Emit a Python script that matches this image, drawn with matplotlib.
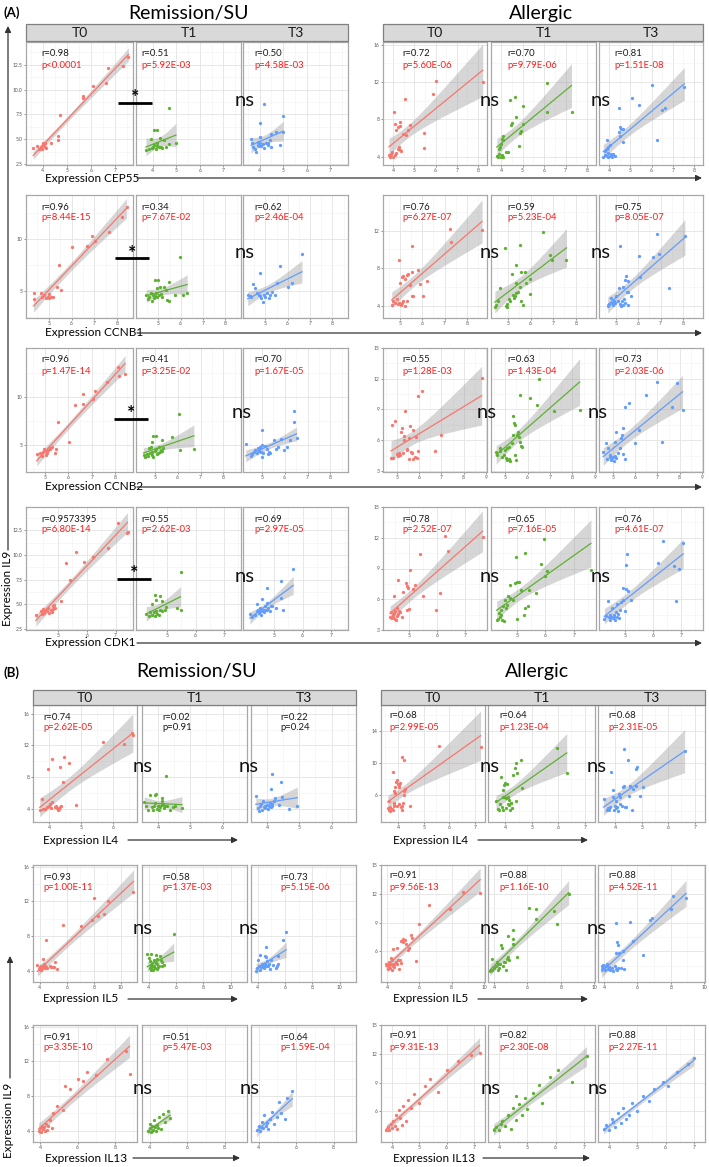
import numpy as np
import matplotlib
matplotlib.use("Agg")
import matplotlib.pyplot as plt

# ------------------------------------------------------------------ data
CATEGORIES = ["T0", "T1", "T3"]
GROUPS = ["Remission/SU", "Allergic"]

CEP55_REM_T0 = [(3.60,4.08),(3.74,4.31),(3.85,3.98),(3.94,4.24),(4.01,4.57),(4.08,4.64),(4.15,4.08),(3.99,4.41),(4.06,4.51),(4.36,4.64),(4.64,5.30),(4.64,4.97),(4.71,7.47),(5.68,9.34),(5.68,9.18),(6.10,10.33),(6.62,10.66),(6.72,12.20),(7.35,12.40),(7.56,13.29),(4.10,4.20),(3.95,4.00)]
CEP55_REM_T1 = [(3.72,3.91),(3.86,3.98),(3.96,4.08),(4.00,4.24),(4.07,4.41),(4.14,3.98),(4.17,4.31),(4.21,4.57),(4.28,4.18),(4.35,4.24),(4.39,4.08),(3.93,5.07),(4.07,5.89),(4.18,5.95),(4.31,5.16),(4.49,4.90),(4.59,4.24),(4.70,4.47),(4.99,4.57),(4.68,8.19)]
CEP55_REM_T3 = [(3.64,5.07),(3.67,4.57),(3.71,4.24),(3.79,3.98),(3.86,3.75),(3.93,4.41),(3.96,4.31),(4.04,4.57),(4.07,4.31),(4.14,4.51),(4.21,4.08),(4.29,4.64),(4.36,4.41),(4.43,4.90),(3.93,4.74),(4.00,5.23),(4.04,6.61),(4.21,8.52),(4.36,4.57),(4.50,5.56),(4.71,5.72),(4.86,4.41),(5.00,5.72),(5.00,7.37),(4.50,4.24)]
CEP55_ALL_T0 = [(3.84,4.11),(3.92,4.29),(3.97,4.47),(4.00,4.00),(4.08,4.22),(3.88,3.93),(3.81,4.22),(4.16,4.36),(4.23,4.83),(4.28,5.01),(4.31,4.72),(4.39,4.65),(4.03,8.79),(4.08,7.53),(4.16,6.81),(4.23,7.17),(4.31,7.71),(4.34,7.24),(4.47,6.45),(4.63,6.27),(4.70,6.81),(4.78,7.35),(4.55,10.23),(5.48,6.52),(5.48,4.94),(5.88,10.77),(6.03,12.14),(8.22,12.04)]
CEP55_ALL_T1 = [(3.80,4.11),(3.85,3.93),(3.92,4.29),(4.00,4.00),(4.05,4.22),(4.11,3.93),(3.89,4.83),(3.95,5.01),(4.00,5.37),(4.08,5.73),(4.11,6.16),(4.05,5.91),(4.23,4.47),(4.31,4.47),(4.46,7.35),(4.51,7.60),(4.69,8.25),(4.42,10.05),(4.65,10.41),(5.00,9.40),(4.88,6.52),(4.92,6.74),(5.00,7.53),(4.85,5.19),(6.15,11.86),(6.15,8.79),(7.28,8.79)]
CEP55_ALL_T3 = [(3.73,4.00),(3.81,4.22),(3.89,4.11),(3.94,3.93),(3.97,4.36),(4.05,4.11),(4.10,4.29),(4.16,4.00),(3.81,4.65),(3.89,4.83),(3.94,5.08),(4.05,5.30),(4.21,4.29),(4.29,4.11),(3.89,5.73),(4.48,9.26),(4.52,7.17),(4.57,6.99),(4.68,6.99),(4.48,6.63),(4.52,6.16),(4.68,5.55),(5.08,10.34),(5.40,9.51),(6.03,11.68),(6.27,5.80),(6.51,8.97),(6.63,9.26),(7.54,11.42)]

CCNB1_REM_T0 = [(4.33,4.78),(4.33,4.20),(4.66,4.78),(4.70,4.39),(4.81,4.62),(4.88,4.29),(4.96,4.46),(5.00,4.71),(5.03,4.29),(5.10,4.46),(5.18,4.39),(5.36,5.42),(5.55,5.10),(5.45,7.50),(6.00,9.20),(6.69,9.33),(6.89,10.29),(7.04,9.81),(7.63,10.61),(8.22,12.08),(8.42,13.04)]
CCNB1_REM_T1 = [(4.46,4.62),(4.53,4.20),(4.60,4.46),(4.67,4.78),(4.71,4.07),(4.77,4.62),(4.81,4.29),(4.86,4.52),(4.91,4.78),(4.96,4.39),(5.03,4.62),(5.10,4.71),(5.17,4.46),(4.86,6.06),(5.00,6.06),(5.06,5.42),(4.96,5.26),(5.24,5.42),(5.34,5.10),(5.46,5.90),(5.39,4.13),(5.46,4.07),(5.74,4.62),(5.96,8.24),(6.10,4.62),(6.29,4.78)]
CCNB1_REM_T3 = [(4.21,4.62),(4.30,4.52),(4.36,4.46),(4.45,5.67),(4.55,5.26),(4.63,4.78),(4.70,4.62),(4.75,6.70),(4.81,4.29),(4.90,3.97),(4.96,4.62),(5.00,4.46),(5.07,4.78),(5.15,4.29),(5.22,4.62),(5.30,4.94),(5.45,4.62),(5.52,5.74),(5.64,7.40),(6.00,5.35),(6.19,5.80),(6.64,8.56),(4.75,4.52)]
CCNB1_ALL_T0 = [(4.63,4.10),(4.70,4.56),(4.78,4.35),(4.85,4.70),(4.93,4.21),(4.97,4.35),(5.03,4.10),(5.07,4.28),(5.15,4.46),(5.22,3.99),(5.30,4.56),(4.97,8.83),(5.00,6.41),(5.07,7.05),(5.15,7.20),(5.22,6.84),(5.30,7.30),(5.37,7.41),(5.45,6.23),(5.52,5.06),(5.56,7.55),(5.59,4.99),(5.52,10.33),(5.82,7.84),(5.92,6.34),(6.04,4.99),(6.19,6.59),(7.23,12.18),(7.30,10.75),(8.68,12.04)]
CCNB1_ALL_T1 = [(4.41,3.92),(4.48,4.10),(4.56,4.46),(4.63,5.88),(4.85,10.15),(4.90,3.99),(4.93,3.92),(4.96,4.21),(5.04,4.70),(5.07,4.46),(5.15,7.41),(5.22,5.17),(5.25,4.81),(5.30,4.99),(5.34,5.35),(5.37,6.48),(5.37,8.37),(5.44,5.52),(5.52,10.51),(5.52,5.99),(5.55,7.55),(5.59,4.56),(5.67,4.10),(5.74,7.55),(5.79,6.48),(5.96,5.28),(5.96,6.84),(6.56,11.82),(6.85,9.44),(6.93,8.83),(7.59,8.83)]
CCNB1_ALL_T3 = [(4.63,3.99),(4.70,4.21),(4.78,4.81),(4.82,4.35),(4.85,4.10),(4.93,4.56),(4.97,4.28),(5.00,5.06),(5.07,4.46),(5.15,5.88),(5.18,4.21),(5.22,3.99),(5.30,4.10),(5.33,5.99),(5.37,4.70),(5.42,4.35),(5.45,7.12),(5.48,5.52),(5.52,6.59),(5.42,6.77),(5.56,5.52),(5.67,4.99),(5.52,4.10),(5.27,4.56),(5.18,10.33),(6.04,9.26),(6.07,7.05),(6.66,9.19),(6.86,11.68),(6.93,9.54),(7.38,5.88),(8.09,11.47)]

CCNB2_REM_T0 = [(4.64,4.03),(4.79,4.14),(4.86,3.86),(4.93,4.31),(4.96,4.55),(5.04,3.97),(5.07,4.21),(5.10,4.41),(5.14,4.48),(5.19,4.66),(5.21,4.55),(5.29,4.83),(5.43,4.21),(5.47,4.55),(5.57,7.41),(6.04,5.34),(6.29,9.21),(6.61,9.31),(6.64,10.34),(7.07,9.83),(7.14,10.62),(7.67,11.55),(8.14,13.17),(8.19,12.14),(8.43,12.41)]
CCNB2_REM_T1 = [(4.51,3.97),(4.57,3.79),(4.65,4.07),(4.71,3.86),(4.80,4.21),(4.86,3.97),(4.90,4.31),(4.94,3.79),(5.00,4.41),(5.04,4.55),(5.09,4.07),(5.14,4.21),(5.23,4.31),(5.29,4.48),(5.33,4.41),(5.38,4.66),(4.75,4.66),(4.83,4.76),(4.90,5.34),(4.94,5.93),(5.04,5.93),(5.19,4.76),(5.33,5.52),(5.77,5.79),(6.06,8.21),(6.10,4.48),(6.71,4.55)]
CCNB2_REM_T3 = [(4.30,5.10),(4.54,3.86),(4.59,4.07),(4.68,4.31),(4.71,4.48),(4.78,4.21),(4.83,4.66),(4.86,4.41),(4.88,4.55),(4.93,4.76),(4.97,4.31),(5.00,5.00),(5.03,3.79),(5.07,4.14),(5.14,4.90),(5.22,4.55),(5.26,4.07),(5.32,4.31),(5.36,4.14),(5.00,6.62),(5.55,5.52),(5.61,4.55),(5.70,4.76),(5.84,5.59),(5.99,4.48),(6.09,4.76),(6.42,8.55),(6.42,7.41),(6.52,5.69),(6.23,5.52)]
CCNB2_ALL_T0 = [(4.73,4.23),(4.82,4.23),(4.78,7.51),(4.93,7.84),(5.00,4.66),(5.03,4.46),(5.07,4.79),(5.12,4.56),(5.18,6.85),(5.22,7.18),(5.27,4.72),(5.30,6.03),(5.32,6.43),(5.37,8.89),(5.44,5.05),(5.47,5.11),(5.52,6.26),(5.52,4.13),(5.59,7.34),(5.62,4.89),(5.66,4.79),(5.71,4.13),(5.74,7.02),(5.81,4.39),(5.86,6.36),(5.89,4.23),(5.96,4.98),(5.96,10.36),(6.11,10.79),(6.70,4.98),(6.99,6.52),(8.81,12.10)]
CCNB2_ALL_T1 = [(4.60,4.89),(4.63,4.56),(4.75,5.21),(4.78,4.98),(4.85,4.39),(4.93,4.56),(5.00,5.05),(5.04,4.23),(5.07,4.07),(5.10,5.21),(5.15,5.38),(5.19,4.13),(5.22,4.00),(5.30,5.70),(5.34,6.52),(5.37,8.33),(5.40,7.67),(5.44,7.51),(5.44,4.56),(5.49,4.07),(5.52,6.52),(5.59,6.85),(5.64,6.30),(5.66,5.87),(5.69,5.44),(5.74,5.31),(5.66,10.46),(6.11,10.13),(6.40,9.48),(6.52,12.00),(7.17,8.82),(8.32,8.92)]
CCNB2_ALL_T3 = [(4.56,4.89),(4.70,5.77),(4.73,4.13),(4.78,5.21),(4.85,4.39),(4.88,4.56),(4.93,4.07),(4.97,4.23),(5.00,4.39),(5.03,4.00),(5.07,4.46),(5.07,5.87),(5.12,6.85),(5.15,4.23),(5.22,4.72),(5.30,5.21),(5.37,6.20),(5.41,6.52),(5.44,7.18),(5.47,4.62),(5.52,4.13),(5.52,9.25),(5.74,9.64),(6.00,5.70),(6.18,7.02),(6.48,10.46),(6.99,11.67),(7.22,5.87),(7.66,9.25),(7.88,11.54),(8.13,8.98)]

CDK1_REM_T0 = [(4.24,3.94),(4.42,4.28),(4.45,4.04),(4.50,4.51),(4.53,4.11),(4.57,4.38),(4.62,4.28),(4.65,4.61),(4.69,4.11),(4.77,4.38),(4.80,4.18),(4.83,4.51),(4.85,4.78),(4.88,4.95),(4.92,4.61),(5.12,5.29),(5.41,7.47),(5.29,9.16),(5.64,10.34),(5.90,9.33),(6.22,9.83),(6.74,10.67),(7.08,13.20),(7.41,12.35),(7.39,12.19)]
CDK1_REM_T1 = [(4.26,4.04),(4.35,3.84),(4.41,4.18),(4.47,3.94),(4.53,4.18),(4.56,3.84),(4.61,4.28),(4.65,4.04),(4.71,3.94),(4.76,4.44),(4.82,4.28),(4.92,4.38),(4.47,5.02),(4.56,5.96),(4.61,5.45),(4.76,5.86),(4.82,5.35),(4.96,4.68),(5.35,4.61),(5.47,4.44),(5.47,8.25)]
CDK1_REM_T3 = [(4.14,4.04),(4.22,3.70),(4.32,3.94),(4.38,4.28),(4.41,5.05),(4.44,4.44),(4.46,4.11),(4.49,4.61),(4.53,3.94),(4.55,4.28),(4.58,5.52),(4.61,4.44),(4.65,4.18),(4.67,4.78),(4.69,4.44),(4.73,5.12),(4.76,4.38),(4.79,4.61),(4.85,4.28),(4.88,4.85),(4.93,4.85),(4.76,6.63),(5.05,4.61),(5.24,5.62),(5.24,7.41),(5.32,4.44),(5.67,8.55)]
CDK1_ALL_T0 = [(4.32,4.31),(4.38,4.15),(4.44,4.25),(4.50,4.05),(4.42,4.48),(4.46,4.70),(4.54,3.98),(4.56,4.38),(4.62,4.57),(4.68,4.80),(4.35,4.80),(4.50,4.90),(4.56,5.13),(4.65,4.90),(4.74,4.31),(4.46,6.34),(4.62,7.85),(4.80,6.67),(4.89,7.59),(4.94,7.33),(4.98,7.10),(4.94,4.97),(5.01,5.03),(5.04,8.84),(5.15,7.00),(5.21,7.43),(5.39,10.38),(5.51,6.28),(5.96,4.97),(6.11,6.61),(6.29,12.13),(6.41,10.72),(7.63,12.03)]
CDK1_ALL_T1 = [(4.27,3.98),(4.32,4.05),(4.39,4.25),(4.44,4.48),(4.47,3.98),(4.53,3.92),(4.35,4.64),(4.41,4.97),(4.51,5.30),(4.55,5.89),(4.59,5.13),(4.65,5.46),(4.67,6.28),(4.74,7.43),(4.76,6.11),(4.86,5.89),(4.91,7.59),(4.98,7.66),(5.00,4.05),(5.06,7.66),(5.12,6.87),(5.24,4.48),(5.29,5.13),(5.38,5.30),(5.41,6.87),(5.65,6.61),(5.85,9.46),(6.00,8.31),(6.06,8.74),(5.26,10.54),(4.94,10.15),(5.94,11.87),(7.61,8.84)]
CDK1_ALL_T3 = [(4.26,4.05),(4.33,4.38),(4.38,5.79),(4.41,4.25),(4.45,4.48),(4.47,3.98),(4.49,4.25),(4.53,5.13),(4.56,4.15),(4.59,4.48),(4.61,4.25),(4.65,3.98),(4.68,4.80),(4.71,4.31),(4.73,5.56),(4.76,4.57),(4.80,4.15),(4.82,4.97),(4.85,5.69),(4.92,5.95),(5.00,4.90),(4.94,7.10),(5.04,7.00),(5.12,6.77),(5.20,5.95),(5.04,9.30),(5.08,10.38),(6.18,9.56),(6.76,9.23),(6.94,8.97),(6.82,5.85),(6.35,11.64),(7.08,11.48)]

IL4_REM_T0 = [(3.71,3.92),(3.79,5.26),(3.81,4.00),(3.89,4.00),(3.94,4.25),(4.00,4.42),(4.04,4.67),(4.07,4.13),(4.11,4.84),(4.18,4.25),(4.23,4.42),(4.25,4.13),(4.28,3.92),(4.32,4.00),(4.34,4.25),(4.39,4.42),(3.97,9.09),(4.09,10.32),(4.34,9.26),(4.44,7.41),(4.47,10.57),(4.63,9.81),(4.86,4.55),(5.68,12.42),(6.36,12.21),(6.63,13.26),(6.60,13.52)]
IL4_REM_T1 = [(3.57,4.84),(3.62,4.42),(3.70,3.83),(3.76,5.81),(3.81,4.25),(3.83,3.92),(3.86,4.42),(3.89,5.81),(3.91,4.76),(3.94,5.94),(3.97,4.00),(4.00,4.34),(4.02,3.83),(4.04,4.42),(4.07,4.25),(4.11,5.39),(4.13,4.97),(4.15,4.67),(4.18,4.13),(4.21,4.34),(4.23,8.21),(4.29,4.34),(4.36,3.83),(4.45,4.25),(4.53,4.42),(4.74,4.13),(4.13,4.55)]
IL4_REM_T3 = [(3.65,5.68),(3.71,4.13),(3.75,3.71),(3.78,4.42),(3.82,4.67),(3.84,3.92),(3.86,4.97),(3.89,4.25),(3.92,4.42),(3.95,4.13),(4.00,4.55),(4.03,4.00),(4.05,4.42),(4.08,4.76),(4.11,4.25),(4.14,4.42),(4.16,4.67),(4.22,4.97),(4.11,6.53),(4.14,8.46),(4.25,5.39),(4.38,4.55),(4.43,7.37),(4.46,5.52),(4.68,4.00),(4.94,4.42)]
IL4_ALL_T0 = [(3.60,4.33),(3.64,4.13),(3.68,4.46),(3.70,3.92),(3.77,4.21),(3.81,4.13),(3.83,4.75),(3.86,4.63),(3.64,5.17),(3.81,8.92),(3.83,6.42),(3.90,6.29),(3.94,7.67),(3.96,7.88),(3.99,7.38),(4.03,6.96),(4.06,7.25),(4.09,7.54),(3.90,6.96),(3.83,4.96),(3.96,4.63),(4.06,4.88),(4.12,4.46),(4.16,4.63),(4.19,4.96),(4.22,6.00),(4.25,6.42),(4.28,6.71),(4.16,4.13),(4.16,10.79),(4.22,10.38),(4.48,4.63),(5.58,12.13),(7.22,12.04)]
IL4_ALL_T1 = [(3.64,5.17),(3.71,4.21),(3.77,4.04),(3.80,4.88),(3.83,8.29),(3.87,4.46),(3.90,4.13),(3.92,6.63),(3.96,7.25),(4.00,7.54),(4.03,4.33),(4.05,7.38),(4.09,5.79),(4.13,5.38),(4.15,4.75),(4.18,4.13),(4.22,4.96),(4.25,4.33),(3.90,5.71),(3.96,5.79),(4.03,5.58),(4.09,4.88),(4.28,8.50),(4.38,9.33),(4.41,10.04),(4.43,8.79),(4.41,5.17),(4.60,10.38),(4.64,6.83),(4.22,5.00),(5.94,11.83),(6.32,8.79)]
IL4_ALL_T3 = [(3.55,5.46),(3.68,4.13),(3.72,4.33),(3.76,4.04),(3.78,4.46),(3.85,8.92),(3.89,6.63),(3.91,5.71),(3.94,4.13),(3.97,4.63),(4.01,4.33),(4.04,5.17),(4.06,4.46),(4.10,3.92),(4.14,6.13),(4.17,4.88),(4.19,5.79),(4.23,4.63),(4.29,6.96),(4.36,4.46),(4.40,4.54),(4.52,5.88),(4.57,7.13),(4.68,6.71),(4.32,11.71),(4.49,10.38),(4.61,4.13),(4.78,9.21),(4.83,9.54),(4.78,7.13),(4.93,5.88),(5.06,6.96),(4.32,7.13),(6.62,11.50)]

IL5_REM_T0 = [(3.83,4.69),(3.93,4.19),(4.00,4.42),(4.07,4.57),(4.12,4.11),(4.17,4.31),(4.25,4.57),(4.32,4.80),(4.37,4.31),(4.42,4.57),(4.49,4.42),(4.56,4.31),(4.25,5.34),(4.74,4.57),(4.81,4.42),(4.49,7.49),(4.98,4.42),(5.05,4.42),(5.30,4.19),(5.15,4.96),(5.72,9.29),(7.06,9.17),(7.85,9.86),(8.04,12.35),(8.34,10.32),(8.73,10.55),(9.02,12.08),(10.94,13.12)]
IL5_REM_T1 = [(3.88,5.95),(4.00,5.46),(4.08,5.07),(4.13,5.95),(4.18,4.69),(4.25,4.42),(4.08,4.31),(4.18,4.04),(4.33,4.11),(4.38,4.57),(4.43,4.31),(4.50,4.88),(4.58,5.34),(4.63,4.80),(4.68,4.42),(4.75,4.57),(4.83,5.65),(4.88,5.26),(4.93,4.96),(5.00,4.57),(5.08,4.69),(4.25,4.88),(4.38,5.26),(5.83,8.25),(4.50,5.84),(4.63,4.19),(4.13,4.50)]
IL5_REM_T3 = [(3.88,3.92),(3.93,4.31),(4.00,5.26),(4.08,4.57),(4.13,4.11),(4.18,5.84),(4.25,4.42),(4.33,4.80),(4.38,4.57),(4.43,4.31),(4.50,4.80),(4.58,5.57),(4.63,4.50),(4.68,5.07),(4.75,4.57),(4.83,4.80),(4.88,4.19),(5.00,5.19),(5.13,4.69),(4.50,5.72),(4.63,6.72),(5.33,4.31),(5.43,4.57),(5.50,4.80),(4.58,4.50),(5.50,5.65),(5.83,7.49),(6.08,8.52)]
IL5_ALL_T0 = [(3.94,4.64),(4.04,4.43),(4.08,4.19),(4.14,4.54),(4.20,4.29),(4.24,4.71),(4.29,4.08),(4.35,4.43),(4.41,4.64),(4.14,4.89),(4.24,5.34),(4.29,5.06),(4.45,4.36),(4.55,4.89),(4.65,4.71),(4.69,5.06),(4.76,4.19),(4.82,5.13),(4.65,6.38),(4.35,6.28),(4.86,7.08),(4.96,7.32),(5.02,6.98),(5.10,7.22),(5.16,6.80),(5.27,6.10),(5.37,6.38),(5.47,7.67),(5.57,7.43),(5.78,4.99),(5.98,8.82),(6.59,10.81),(7.92,10.36),(8.69,12.20),(9.76,12.10),(4.86,4.78)]
IL5_ALL_T1 = [(3.75,3.94),(3.90,4.08),(4.00,4.29),(3.90,5.23),(4.10,4.43),(4.17,4.89),(4.21,4.01),(4.25,4.64),(4.31,4.29),(4.38,4.64),(4.42,6.63),(4.46,6.38),(4.52,4.43),(4.58,4.89),(4.63,4.89),(4.73,4.08),(4.79,5.23),(4.83,7.57),(4.83,5.41),(4.88,5.13),(5.15,8.20),(5.15,7.32),(5.15,6.80),(5.35,5.41),(6.08,10.53),(6.54,10.36),(6.50,9.41),(7.58,10.22),(7.79,8.82),(8.48,11.96)]
IL5_ALL_T3 = [(3.85,4.43),(3.90,4.19),(3.96,4.54),(4.02,4.29),(4.06,4.08),(4.10,4.43),(4.17,4.64),(4.23,4.19),(4.27,4.36),(4.38,4.08),(4.48,4.29),(4.52,3.94),(4.65,4.43),(4.69,4.19),(4.79,4.08),(4.86,4.29),(4.90,5.83),(5.00,4.29),(5.11,6.03),(5.15,5.13),(5.21,4.19),(4.69,5.83),(4.79,6.98),(4.86,6.63),(4.69,8.96),(5.57,9.07),(5.74,7.08),(6.32,5.58),(6.74,9.24),(6.89,9.52),(8.00,10.36),(8.14,11.75),(8.92,11.51)]

IL13_REM_T0 = [(3.90,4.00),(4.00,4.30),(4.05,3.90),(4.10,4.60),(4.15,4.20),(4.20,4.40),(4.25,4.00),(4.30,4.80),(4.35,4.10),(4.40,4.50),(4.50,5.20),(4.60,4.30),(4.70,6.00),(4.90,6.80),(5.20,6.40),(5.30,9.20),(5.60,8.80),(6.00,10.00),(6.30,9.70),(6.50,10.80),(7.00,10.40),(7.60,12.30),(8.60,13.20),(8.80,10.50)]
IL13_REM_T1 = [(3.90,4.00),(4.00,4.30),(4.05,4.80),(4.10,3.90),(4.15,4.50),(4.20,4.10),(4.25,5.20),(4.30,4.40),(4.35,4.00),(4.40,4.70),(4.50,5.60),(4.60,4.20),(4.70,5.90),(4.80,5.00),(5.00,6.30),(5.10,5.50),(4.45,4.30),(4.15,4.00)]
IL13_REM_T3 = [(3.90,4.10),(4.00,4.50),(4.10,4.00),(4.20,5.00),(4.25,4.30),(4.30,5.80),(4.40,4.60),(4.50,4.20),(4.60,5.30),(4.70,6.20),(4.80,4.80),(5.00,5.60),(5.10,7.30),(5.20,6.00),(5.40,5.40),(5.50,7.80),(5.80,8.60),(4.45,4.90),(4.15,4.40)]
IL13_ALL_T0 = [(3.80,4.10),(3.85,4.40),(3.90,4.00),(3.95,4.70),(4.00,4.30),(4.05,5.00),(4.10,4.50),(4.15,5.60),(4.20,4.20),(4.25,6.10),(4.30,5.30),(4.40,6.60),(4.50,5.00),(4.60,7.20),(4.70,6.30),(4.80,7.80),(5.00,6.90),(5.20,8.60),(5.40,9.40),(5.70,8.00),(6.00,10.30),(6.40,11.20),(6.90,11.90),(7.20,12.10),(4.35,4.60)]
IL13_ALL_T1 = [(3.80,4.00),(3.90,4.40),(4.00,4.10),(4.10,5.00),(4.20,4.50),(4.30,5.60),(4.40,4.20),(4.50,6.30),(4.60,5.10),(4.70,6.80),(4.80,5.60),(4.90,7.40),(5.00,6.20),(5.20,7.90),(5.40,8.70),(5.50,6.90),(5.80,9.60),(6.10,10.30),(6.60,9.10),(7.10,11.80),(4.05,4.70),(4.60,7.60)]
IL13_ALL_T3 = [(3.80,4.20),(3.90,4.60),(4.00,4.00),(4.10,5.20),(4.20,4.40),(4.30,5.80),(4.40,4.80),(4.50,6.30),(4.60,5.20),(4.80,6.90),(5.00,6.00),(5.20,7.60),(5.40,7.10),(5.60,8.30),(5.90,9.10),(6.10,8.60),(6.40,10.10),(6.80,10.90),(7.00,11.60),(4.15,4.90),(4.70,5.60)]

ANN_CEP55_REM = [("r=0.98", "p<0.0001"), ("r=0.51", "p=5.92E-03"), ("r=0.50", "p=4.58E-03")]
ANN_CEP55_ALL = [("r=0.72", "p=5.60E-06"), ("r=0.70", "p=9.79E-06"), ("r=0.81", "p=1.51E-08")]
ANN_CCNB1_REM = [("r=0.96", "p=8.44E-15"), ("r=0.34", "p=7.67E-02"), ("r=0.62", "p=2.46E-04")]
ANN_CCNB1_ALL = [("r=0.76", "p=6.27E-07"), ("r=0.59", "p=5.23E-04"), ("r=0.75", "p=8.05E-07")]
ANN_CCNB2_REM = [("r=0.96", "p=1.47E-14"), ("r=0.41", "p=3.25E-02"), ("r=0.70", "p=1.67E-05")]
ANN_CCNB2_ALL = [("r=0.55", "p=1.28E-03"), ("r=0.63", "p=1.43E-04"), ("r=0.73", "p=2.03E-06")]
ANN_CDK1_REM = [("r=0.9573395", "p=6.80E-14"), ("r=0.55", "p=2.62E-03"), ("r=0.69", "p=2.97E-05")]
ANN_CDK1_ALL = [("r=0.78", "p=2.52E-07"), ("r=0.65", "p=7.16E-05"), ("r=0.76", "p=4.61E-07")]
ANN_IL4_REM = [("r=0.74", "p=2.62E-05"), ("r=0.02", "p=0.91"), ("r=0.22", "p=0.24")]
ANN_IL4_ALL = [("r=0.68", "p=2.99E-05"), ("r=0.64", "p=1.23E-04"), ("r=0.68", "p=2.31E-05")]
ANN_IL5_REM = [("r=0.93", "p=1.00E-11"), ("r=0.58", "p=1.37E-03"), ("r=0.73", "p=5.15E-06")]
ANN_IL5_ALL = [("r=0.91", "p=9.56E-13"), ("r=0.88", "p=1.16E-10"), ("r=0.88", "p=4.52E-11")]
ANN_IL13_REM = [("r=0.91", "p=3.35E-10"), ("r=0.51", "p=5.47E-03"), ("r=0.64", "p=1.59E-04")]
ANN_IL13_ALL = [("r=0.91", "p=9.31E-13"), ("r=0.82", "p=2.30E-08"), ("r=0.88", "p=2.27E-11")]

# ------------------------------------------------------------------ style
plt.rcParams['font.family'] = ['Lato', 'DejaVu Sans']
W, H = 709, 1167
COLORS = ['#F8766D', '#5DB131', '#619CFF']
PRED = '#FF1A1A'

fig = plt.figure(figsize=(W / 100, H / 100), dpi=100)
fig.patch.set_facecolor('white')
ov = fig.add_axes([0, 0, 1, 1])
ov.set_xlim(0, W)
ov.set_ylim(H, 0)
ov.axis('off')
ov.patch.set_alpha(0)
ov.set_zorder(10)


def tcrit(df):
    return 1.96 + 2.37 / df + 2.8 / df ** 2


def fit_band(x, y):
    n = len(x)
    b, a = np.polyfit(x, y, 1)
    res = y - (a + b * x)
    s = np.sqrt(np.sum(res ** 2) / (n - 2))
    xm = x.mean()
    sxx = np.sum((x - xm) ** 2)
    xg = np.linspace(x.min(), x.max(), 80)
    yh = a + b * xg
    se = s * np.sqrt(1.0 / n + (xg - xm) ** 2 / sxx)
    t = tcrit(n - 2)
    return xg, yh, yh - t * se, yh + t * se


def minor_of(ticks, lim):
    step = ticks[1] - ticks[0]
    m = np.arange(ticks[0] - step / 2, lim[1] + step, step)
    return [v for v in m if lim[0] <= v <= lim[1]]


def draw_group(data3, xs, yr, xlim, ylim, xticks, yticks, yfmt, ann, offs,
               pcols=(PRED, PRED, PRED), rdy=12, pdy=23):
    for i, (pts, (x0, x1)) in enumerate(zip(data3, xs)):
        y0, y1 = yr
        ax = fig.add_axes([x0 / W, 1 - y1 / H, (x1 - x0) / W, (y1 - y0) / H])
        ax.set_facecolor('white')
        arr = np.array(pts, dtype=float)
        x, y = arr[:, 0], arr[:, 1]
        xg, yh, lo, hi = fit_band(x, y)
        ax.fill_between(xg, lo, hi, color='#999999', alpha=0.4, lw=0, zorder=2)
        ax.scatter(x, y, s=5.5, color=COLORS[i], lw=0, zorder=3)
        ax.plot(xg, yh, color=COLORS[i], lw=0.9, zorder=4)
        ax.set_xlim(xlim)
        ax.set_ylim(ylim)
        ax.set_xticks(xticks)
        ax.set_yticks(yticks)
        ax.set_xticks(minor_of(xticks, xlim), minor=True)
        ax.set_yticks(minor_of(yticks, ylim), minor=True)
        ax.grid(True, which='major', color='#E3E3E3', lw=0.6, zorder=0)
        ax.grid(True, which='minor', color='#F2F2F2', lw=0.4, zorder=0)
        ax.set_axisbelow(True)
        ax.set_xticklabels([('%g' % v) for v in xticks])
        ax.set_yticklabels([yfmt.format(v) for v in yticks])
        ax.tick_params(which='major', length=1.5, width=0.5, color='#666666',
                       labelsize=3.6, labelcolor='#555555', pad=1.0)
        ax.tick_params(which='minor', length=0)
        if i > 0:
            ax.tick_params(axis='y', left=False, labelleft=False)
        for sp in ax.spines.values():
            sp.set_color('#A8A8A8')
            sp.set_linewidth(0.9)
        r_txt, p_txt = ann[i]
        ov.text(x0 + offs[i], y0 + rdy, r_txt, fontsize=6.8, color='#1A1A1A',
                ha='left', va='center')
        ov.text(x0 + offs[i], y0 + pdy, p_txt, fontsize=6.8, color=pcols[i],
                ha='left', va='center')


def strip(xs, y0, y1):
    ov.add_patch(plt.Rectangle((xs[0][0], y0), xs[-1][1] - xs[0][0], y1 - y0,
                               facecolor='#D9D9D9', edgecolor='#808080', lw=0.9, zorder=1))
    for lab, (a, b) in zip(CATEGORIES, xs):
        ov.text((a + b) / 2, (y0 + y1) / 2 + 0.5, lab, fontsize=10, ha='center',
                va='center', color='#1A1A1A')


def harrow(x0, x1, y):
    ov.annotate('', xy=(x1, y), xytext=(x0, y),
                arrowprops=dict(arrowstyle='-|>', color='#333333', lw=0.9,
                                mutation_scale=9, shrinkA=0, shrinkB=0))


def vline_arrow(x, ybot, ytop):
    ov.annotate('', xy=(x, ytop), xytext=(x, ybot),
                arrowprops=dict(arrowstyle='-|>', color='#333333', lw=0.9,
                                mutation_scale=9, shrinkA=0, shrinkB=0))


def ns(x, y):
    ov.text(x, y, 'ns', fontsize=14.5, ha='center', va='center', color='#111111')


def star(xa, xb, y):
    ov.plot([xa, xb], [y, y], color='black', lw=2.0, solid_capstyle='butt')
    ov.text((xa + xb) / 2, y - 5, '*', fontsize=14, ha='center', va='center',
            color='black', fontweight='bold')


# ------------------------------------------------------------------ layout
A_ROWS_Y = [(42, 165), (195, 318), (348, 472), (507, 630)]
A_LEFT_X = [(26, 133), (136, 241), (243, 348)]
A_RIGHT_X = [(383, 487), (491, 596), (599, 703)]
B_ROWS_Y = [(705, 822), (865, 982), (1025, 1142)]
B_LEFT_X = [(33, 137), (142, 247), (251, 356)]
B_RIGHT_X = [(381, 485), (488, 595), (598, 705)]
A_OFF_L = [15, 5, 11]
A_OFF_R = [19, 16, 15]
B_OFF_L = [10, 20, 29]
B_OFF_R = [8, 11, 10]

# Section A titles
ov.text(3, 13, '(A)', fontsize=9.5, fontweight='bold', ha='left', va='center')
ov.text(189, 13, GROUPS[0], fontsize=14, ha='center', va='center')
ov.text(541, 13, GROUPS[1], fontsize=14, ha='center', va='center')
strip(A_LEFT_X, 24, 41)
strip(A_RIGHT_X, 24, 41)

# A rows
draw_group([CEP55_REM_T0, CEP55_REM_T1, CEP55_REM_T3], A_LEFT_X, A_ROWS_Y[0],
           (3.3, 7.75), (2.4, 14.8), [4, 5, 6, 7], [2.5, 5, 7.5, 10, 12.5], '{:.1f}',
           ANN_CEP55_REM, A_OFF_L)
draw_group([CEP55_ALL_T0, CEP55_ALL_T1, CEP55_ALL_T3], A_RIGHT_X, A_ROWS_Y[0],
           (3.53, 8.42), (3.1, 16.3), [4, 5, 6, 7, 8], [4, 8, 12, 16], '{:g}',
           ANN_CEP55_ALL, A_OFF_R)
draw_group([CCNB1_REM_T0, CCNB1_REM_T1, CCNB1_REM_T3], A_LEFT_X, A_ROWS_Y[1],
           (4.0, 8.7), (2.4, 14.2), [5, 6, 7, 8], [5, 10], '{:g}',
           ANN_CCNB1_REM, A_OFF_L)
draw_group([CCNB1_ALL_T0, CCNB1_ALL_T1, CCNB1_ALL_T3], A_RIGHT_X, A_ROWS_Y[1],
           (4.24, 8.9), (2.7, 15.8), [5, 6, 7, 8], [4, 8, 12], '{:g}',
           ANN_CCNB1_ALL, A_OFF_R)
draw_group([CCNB2_REM_T0, CCNB2_REM_T1, CCNB2_REM_T3], A_LEFT_X, A_ROWS_Y[2],
           (4.18, 8.77), (2.2, 15.1), [5, 6, 7, 8], [5, 10], '{:g}',
           ANN_CCNB2_REM, A_OFF_L)
draw_group([CCNB2_ALL_T0, CCNB2_ALL_T1, CCNB2_ALL_T3], A_RIGHT_X, A_ROWS_Y[2],
           (4.37, 9.05), (2.9, 15.0), [5, 6, 7, 8, 9], [3, 6, 9, 12, 15], '{:g}',
           ANN_CCNB2_ALL, A_OFF_R)
draw_group([CDK1_REM_T0, CDK1_REM_T1, CDK1_REM_T3], A_LEFT_X, A_ROWS_Y[3],
           (3.9, 7.6), (2.4, 14.85), [5, 6, 7], [2.5, 5, 7.5, 10, 12.5], '{:.1f}',
           ANN_CDK1_REM, A_OFF_L)
draw_group([CDK1_ALL_T0, CDK1_ALL_T1, CDK1_ALL_T3], A_RIGHT_X, A_ROWS_Y[3],
           (4.07, 7.79), (3.0, 15.0), [5, 6, 7], [3, 6, 9, 12, 15], '{:g}',
           ANN_CDK1_ALL, A_OFF_R)

# A x-axis labels + arrows
for gene, y in zip(["CEP55", "CCNB1", "CCNB2", "CDK1"], [178, 333, 487, 643]):
    ov.text(45, y, 'Expression ' + gene, fontsize=8.5, ha='left', va='center')
    harrow(137, 702, y)
vline_arrow(8, 550, 26)
ov.text(8, 588, 'Expression IL9', fontsize=8.5, rotation=90, ha='center', va='center')

# A significance marks
star(118, 152, 103)
star(115, 149, 258)
star(114, 148, 419)
star(117, 151, 579)
for (xl, xr1, xr2, y) in [(245, 490, 601, 100), (245, 490, 601, 252),
                          (242, 487, 598, 413), (245, 490, 601, 576)]:
    ns(xl, y)
    ns(xr1, y)
    ns(xr2, y)

# Section B titles
ov.text(3, 673, '(B)', fontsize=9.5, fontweight='bold', ha='left', va='center')
ov.text(196, 672, GROUPS[0], fontsize=14, ha='center', va='center')
ov.text(537, 672, GROUPS[1], fontsize=14, ha='center', va='center')
strip(B_LEFT_X, 690, 705)
strip(B_RIGHT_X, 690, 705)

draw_group([IL4_REM_T0, IL4_REM_T1, IL4_REM_T3], B_LEFT_X, B_ROWS_Y[0],
           (3.5, 6.76), (2.35, 17.1), [4, 5, 6], [4, 8, 12, 16], '{:g}',
           ANN_IL4_REM, B_OFF_L, pcols=(PRED, '#1A1A1A', '#1A1A1A'))
draw_group([IL4_ALL_T0, IL4_ALL_T1, IL4_ALL_T3], B_RIGHT_X, B_ROWS_Y[0],
           (3.34, 7.39), (2.6, 17.25), [4, 5, 6, 7], [6, 10, 14], '{:g}',
           ANN_IL4_ALL, B_OFF_R, rdy=11, pdy=22)
draw_group([IL5_REM_T0, IL5_REM_T1, IL5_REM_T3], B_LEFT_X, B_ROWS_Y[1],
           (3.5, 11.2), (2.7, 16.2), [4, 6, 8, 10], [4, 8, 12, 16], '{:g}',
           ANN_IL5_REM, B_OFF_L)
draw_group([IL5_ALL_T0, IL5_ALL_T1, IL5_ALL_T3], B_RIGHT_X, B_ROWS_Y[1],
           (3.63, 10.06), (2.8, 15.0), [4, 6, 8, 10], [6, 9, 12, 15], '{:g}',
           ANN_IL5_ALL, B_OFF_R, rdy=11, pdy=22)
draw_group([IL13_REM_T0, IL13_REM_T1, IL13_REM_T3], B_LEFT_X, B_ROWS_Y[2],
           (3.6, 9.2), (2.7, 16.2), [4, 6, 8], [4, 8, 12, 16], '{:g}',
           ANN_IL13_REM, B_OFF_L)
draw_group([IL13_ALL_T0, IL13_ALL_T1, IL13_ALL_T3], B_RIGHT_X, B_ROWS_Y[2],
           (3.6, 7.4), (2.8, 15.0), [4, 5, 6, 7], [6, 9, 12, 15], '{:g}',
           ANN_IL13_ALL, B_OFF_R, rdy=11, pdy=22)

for gene, y, (la, a0, a1), (lb, b0, b1) in [
        ("IL4", 840, (43, 128, 238), (393, 478, 588)),
        ("IL5", 999, (43, 128, 238), (393, 478, 588)),
        ("IL13", 1158, (45, 133, 240), (393, 483, 590))]:
    ov.text(la, y, 'Expression ' + gene, fontsize=8.5, ha='left', va='center')
    harrow(a0, a1, y)
    ov.text(lb, y, 'Expression ' + gene, fontsize=8.5, ha='left', va='center')
    harrow(b0, b1, y)

vline_arrow(10, 1078, 956)
ov.text(9, 1120, 'Expression IL9', fontsize=8.5, rotation=90, ha='center', va='center')

for (l1, l2, r1, r2, y) in [(143, 249, 490, 597, 767), (143, 249, 490, 597, 929),
                            (143, 250, 491, 598, 1089)]:
    ns(l1, y)
    ns(l2, y)
    ns(r1, y)
    ns(r2, y)

fig.savefig('out.png', dpi=100, facecolor='white')
